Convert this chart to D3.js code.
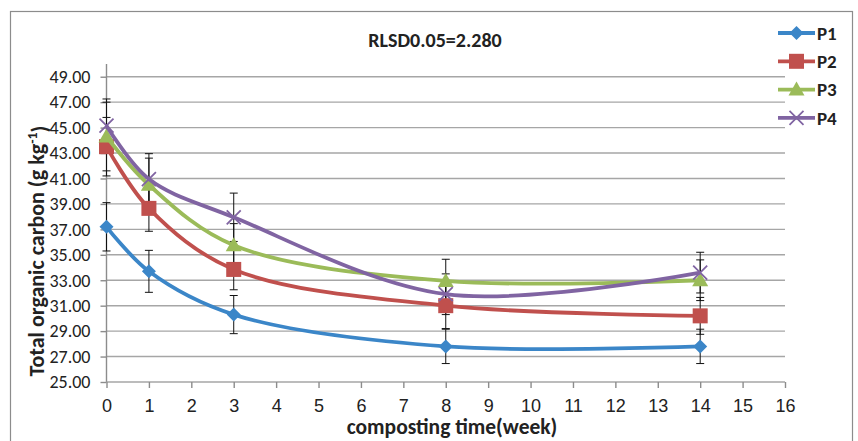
<!DOCTYPE html>
<html><head><meta charset="utf-8">
<script src="https://cdn.jsdelivr.net/npm/d3@7"></script>
<style>body{margin:0;background:#fff;} svg{display:block;font-family:Carlito,Lato,"Open Sans",sans-serif;}</style>
</head><body>
<svg id="c" width="858" height="441"></svg>
<script>
const weeks = [0, 1, 3, 8, 14];
const seriesNames = ["P1", "P2", "P3", "P4"];
const p1 = [37.2, 33.7, 30.3, 27.8, 27.8];
const p2 = [43.5, 38.65, 33.85, 31.0, 30.2];
const p3 = [44.3, 40.5, 35.75, 32.95, 33.0];
const p4 = [45.15, 40.95, 37.95, 31.9, 33.6];
const e1 = [1.9, 1.65, 1.5, 1.35, 1.35];
const e2 = [2.3, 1.8, 1.6, 1.8, 1.45];
const e3 = [2.7, 2.1, 1.7, 1.7, 1.6];
const e4 = [2.1, 2.0, 1.9, 1.6, 1.6];
const yTicks = [25, 27, 29, 31, 33, 35, 37, 39, 41, 43, 45, 47, 49];
const xTicks = d3.range(0, 17);
const title = "RLSD0.05=2.280";
const xTitle = "composting time(week)";

const colors = ["#3b86c8", "#c0504d", "#9bbb59", "#8064a2"];
const markers = ["diamond", "square", "triangle", "cross"];
const values = [p1, p2, p3, p4];
const errs = [e1, e2, e3, e4];

const svg = d3.select("#c");
svg.append("rect").attr("x", 10.5).attr("y", 11.5).attr("width", 842).attr("height", 440)
  .attr("fill", "#fff").attr("stroke", "#8c8c8c").attr("stroke-width", 1.2);

const x = d3.scaleLinear().domain([0, 16]).range([106.5, 785]);
const y = d3.scaleLinear().domain([25, 50]).range([382, 64]);

// gridlines
svg.append("g").selectAll("line").data(yTicks.slice(1)).join("line")
  .attr("x1", x(0)).attr("x2", x(16)).attr("y1", d => y(d)).attr("y2", d => y(d))
  .attr("stroke", "#a6a6a6").attr("stroke-width", 1.4);

// y axis
const ya = svg.append("g").attr("transform", `translate(${x(0)},0)`)
  .call(d3.axisLeft(y).tickValues(yTicks).tickFormat(d3.format(".2f")).tickSize(6).tickPadding(10));
ya.select(".domain").attr("stroke", "#8c8c8c").attr("stroke-width", 1.4).attr("d", `M0,${y(50)}V${y(25)}`);
ya.selectAll(".tick line").attr("stroke", "#8c8c8c").attr("stroke-width", 1.4);
ya.selectAll("text").attr("font-size", 18).attr("fill", "#222").attr("font-family", "Carlito,Lato,sans-serif");

// x axis
const xa = svg.append("g").attr("transform", `translate(0,${y(25)})`)
  .call(d3.axisBottom(x).tickValues(xTicks).tickSize(6).tickPadding(11));
xa.select(".domain").attr("stroke", "#a6a6a6").attr("stroke-width", 1.4).attr("d", `M${x(0)},0H${x(16)}`);
xa.selectAll(".tick line").attr("stroke", "#8c8c8c").attr("stroke-width", 1.4);
xa.selectAll("text").attr("font-size", 18).attr("fill", "#222");

// error bars
values.forEach((vals, si) => {
  const g = svg.append("g");
  weeks.forEach((w, i) => {
    const lo = y(vals[i] - errs[si][i]), hi = y(vals[i] + errs[si][i]);
    g.append("line").attr("x1", x(w)).attr("x2", x(w)).attr("y1", lo).attr("y2", hi).attr("stroke", "#111").attr("stroke-width", 1);
    [lo, hi].forEach(yy => g.append("line").attr("x1", x(w) - 4).attr("x2", x(w) + 4).attr("y1", yy).attr("y2", yy).attr("stroke", "#111").attr("stroke-width", 1));
  });
});

function drawMarker(g, type, cx, cy, color) {
  if (type === "diamond") {
    g.append("path").attr("d", `M${cx},${cy-7}L${cx+7},${cy}L${cx},${cy+7}L${cx-7},${cy}Z`).attr("fill", color);
  } else if (type === "square") {
    g.append("rect").attr("x", cx-7.5).attr("y", cy-7.5).attr("width", 15).attr("height", 15).attr("fill", color);
  } else if (type === "triangle") {
    g.append("path").attr("d", `M${cx},${cy-8}L${cx+8},${cy+6}L${cx-8},${cy+6}Z`).attr("fill", color);
  } else {
    g.append("path").attr("d", `M${cx-7},${cy-7}L${cx+7},${cy+7}M${cx-7},${cy+7}L${cx+7},${cy-7}`).attr("stroke", color).attr("stroke-width", 1.8);
  }
}

const line = d3.line().x(d => x(d[0])).y(d => y(d[1])).curve(d3.curveCatmullRom.alpha(0.5));
values.forEach((vals, si) => {
  const pts = weeks.map((w, i) => [w, vals[i]]);
  svg.append("path").attr("d", line(pts)).attr("fill", "none").attr("stroke", colors[si]).attr("stroke-width", 3.8);
  const g = svg.append("g");
  pts.forEach(p => drawMarker(g, markers[si], x(p[0]), y(p[1]), colors[si]));
});

// legend
const leg = svg.append("g");
seriesNames.forEach((n, i) => {
  const ly = 33 + i * 28.3;
  leg.append("line").attr("x1", 778).attr("x2", 815).attr("y1", ly).attr("y2", ly).attr("stroke", colors[i]).attr("stroke-width", 3.8);
  drawMarker(leg, markers[i], 796.5, ly, colors[i]);
  leg.append("text").attr("x", 817).attr("y", ly).attr("dy", "0.35em").attr("font-size", 19).attr("font-weight", "bold").attr("fill", "#222").text(n);
});

// titles
svg.append("text").attr("x", 435).attr("y", 40).attr("dy", "0.35em").attr("text-anchor", "middle")
  .attr("font-size", 20).attr("font-weight", "bold").attr("fill", "#222").text(title);
svg.append("text").attr("x", 452).attr("y", 434).attr("text-anchor", "middle")
  .attr("font-size", 21.5).attr("font-weight", "bold").attr("fill", "#222").text(xTitle);
const yt = svg.append("text").attr("transform", "translate(36,251) rotate(-90)").attr("text-anchor", "middle")
  .attr("dy", "0.35em").attr("font-size", 22).attr("font-weight", "bold").attr("fill", "#222");
yt.append("tspan").text("Total organic carbon (g kg");
yt.append("tspan").attr("dy", "-0.45em").attr("font-size", 14).text("-1");
yt.append("tspan").attr("dy", "0.45em").text(")");
</script>
</body></html>
